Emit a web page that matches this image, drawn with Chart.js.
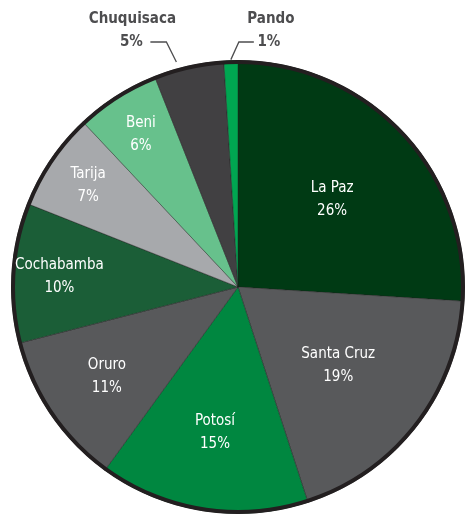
<!DOCTYPE html>
<html>
<head>
<meta charset="utf-8">
<script src="https://cdn.jsdelivr.net/npm/chart.js@4.4.1/dist/chart.umd.min.js"></script>
<style>
  html, body { margin: 0; padding: 0; background: #fff; }
  #wrap { width: 468px; height: 524px; }
</style>
</head>
<body>
<div id="wrap"><canvas id="pieChart" width="468" height="524"></canvas></div>
<script>
// departments of Bolivia, share in %
const departments = ["La Paz", "Santa Cruz", "Potosí", "Oruro", "Cochabamba", "Tarija", "Beni", "Chuquisaca", "Pando"];
const shares = [26, 19, 15, 11, 10, 7, 6, 5, 1];
const sliceColors = ["#003a14", "#58595b", "#008740", "#58595b", "#1b5e37", "#a7a9ac", "#67c18c", "#414042", "#00a651"];

// how far out (fraction of radius) each inside label sits; null = outside label
const labelRadius = [0.57, 0.56, 0.65, 0.7, 0.79, 0.8, 0.8, null, null];

const labelFont = '15px "Liberation Sans Narrow", "DejaVu Sans Condensed", sans-serif';
const outerFont = 'bold 15px "Liberation Sans Narrow", "DejaVu Sans Condensed", sans-serif';

const pieDecor = {
  id: "pieDecor",
  afterDatasetsDraw(chart) {
    const ctx = chart.ctx;
    const arcs = chart.getDatasetMeta(0).data;
    const cx = arcs[0].x, cy = arcs[0].y, r = arcs[0].outerRadius;

    // dark outer rim
    ctx.save();
    ctx.beginPath();
    ctx.arc(cx, cy, r - 1.5, 0, Math.PI * 2);
    ctx.lineWidth = 4;
    ctx.strokeStyle = "#231f20";
    ctx.stroke();

    ctx.textAlign = "center";
    ctx.textBaseline = "middle";

    arcs.forEach((arc, i) => {
      const mid = (arc.startAngle + arc.endAngle) / 2;
      if (labelRadius[i] !== null) {
        const lr = r * labelRadius[i];
        const x = cx + Math.cos(mid) * lr;
        const y = cy + Math.sin(mid) * lr;
        ctx.fillStyle = "#ffffff";
        ctx.font = labelFont;
        ctx.fillText(departments[i], x, y - 11);
        ctx.fillText(shares[i] + "%", x, y + 12);
      } else {
        // outside label with leader line
        const left = Math.cos(mid) * r < -20;
        const ex = cx + Math.cos(mid) * (r + 1) - (left ? 12 : 0);
        const ey = cy + Math.sin(mid) * (r + 1) - (left ? 3 : 0);
        const elbowX = left ? ex - 10 : ex + 8;
        const lineY = 42;
        const endX = left ? elbowX - 16 : elbowX + 15;
        ctx.beginPath();
        ctx.moveTo(ex, ey);
        ctx.lineTo(elbowX, lineY);
        ctx.lineTo(endX, lineY);
        ctx.lineWidth = 1.3;
        ctx.strokeStyle = "#4d4d4f";
        ctx.stroke();

        ctx.fillStyle = "#4d4d4f";
        ctx.font = outerFont;
        const tx = left ? endX - 19 : endX + 15;
        ctx.fillText(departments[i], tx + (left ? 1 : 2), 19);
        ctx.fillText(shares[i] + "%", tx, lineY);
      }
    });
    ctx.restore();
  }
};

new Chart(document.getElementById("pieChart"), {
  type: "pie",
  data: {
    labels: departments,
    datasets: [{
      data: shares,
      backgroundColor: sliceColors,
      borderColor: "rgba(30,30,30,0.45)",
      borderWidth: 1
    }]
  },
  options: {
    responsive: false,
    animation: false,
    layout: { padding: { left: 11, right: 3, top: 60, bottom: 10 } },
    plugins: {
      legend: { display: false },
      tooltip: { enabled: false }
    }
  },
  plugins: [pieDecor]
});
</script>
</body>
</html>
